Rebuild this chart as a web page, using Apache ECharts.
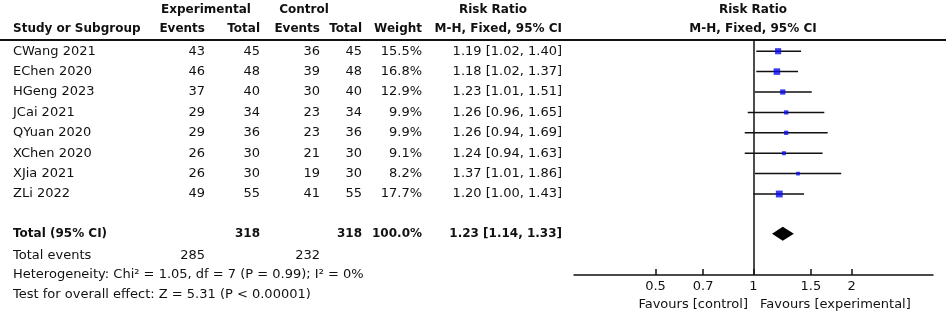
<!DOCTYPE html>
<html style="height: 100%">
<head>
    <meta charset="utf-8">
</head>
<body style="height: 100%; margin: 0; background: #fff">
<div id="container" style="width: 948px; height: 316px"></div>

<script type="text/javascript" src="https://cdn.jsdelivr.net/npm/echarts@6/dist/echarts.min.js"></script>

<script type="text/javascript">
    var studies = ['CWang 2021', 'EChen 2020', 'HGeng 2023', 'JCai 2021', 'QYuan 2020', 'XChen 2020', 'XJia 2021', 'ZLi 2022'];
    var expEvents = [43, 46, 37, 29, 29, 26, 26, 49];
    var expTotal = [45, 48, 40, 34, 36, 30, 30, 55];
    var ctrlEvents = [36, 39, 30, 23, 23, 21, 19, 41];
    var ctrlTotal = [45, 48, 40, 34, 36, 30, 30, 55];
    var weights = [15.5, 16.8, 12.9, 9.9, 9.9, 9.1, 8.2, 17.7];
    var rr = [1.19, 1.18, 1.23, 1.26, 1.26, 1.24, 1.37, 1.20];
    var ciLow = [1.02, 1.02, 1.01, 0.96, 0.94, 0.94, 1.01, 1.00];
    var ciHigh = [1.40, 1.37, 1.51, 1.65, 1.69, 1.63, 1.86, 1.43];

    var totalExp = 318, totalCtrl = 318;
    var totalExpEvents = 285, totalCtrlEvents = 232;
    var pooled = [1.23, 1.14, 1.33];   // rr, low, high

    var tickLabels = [0.5, 0.7, 1, 1.5, 2];

    var dom = document.getElementById('container');
    var myChart = echarts.init(dom);

    var FONT = 'DejaVu Sans';
    var lg = function (v) { return Math.log(v) / Math.LN10; };
    var fmt2 = function (v) { return v.toFixed(2); };

    // table columns: [x, align]
    var cols = [[13, 'left'], [205, 'right'], [260, 'right'], [320, 'right'], [362, 'right'], [422, 'right'], [562, 'right']];

    var tableRows = studies.map(function (s, i) {
        return [i + 0.55, s, expEvents[i], expTotal[i], ctrlEvents[i], ctrlTotal[i],
            weights[i].toFixed(1) + '%',
            fmt2(rr[i]) + ' [' + fmt2(ciLow[i]) + ', ' + fmt2(ciHigh[i]) + ']', 'normal'];
    });
    var wSum = weights.reduce(function (a, b) { return a + b; }, 0);
    tableRows.push([9.5, 'Total (95% CI)', '', totalExp, '', totalCtrl, wSum.toFixed(1) + '%',
        fmt2(pooled[0]) + ' [' + fmt2(pooled[1]) + ', ' + fmt2(pooled[2]) + ']', 'bold']);

    function txt(x, y, text, align, weight) {
        var bold = weight === 'bold';
        return {
            type: 'text', x: x, y: y,
            style: {
                text: String(text), align: align, verticalAlign: 'middle',
                font: (bold ? 'bold 12px' : 'normal 13px') + ' "' + FONT + '"', fill: '#111'
            }
        };
    }

    var headerTexts = [
        txt(206, 10, 'Experimental', 'center', 'bold'),
        txt(304, 10, 'Control', 'center', 'bold'),
        txt(493, 10, 'Risk Ratio', 'center', 'bold'),
        txt(753, 10, 'Risk Ratio', 'center', 'bold'),
        txt(13, 29, 'Study or Subgroup', 'left', 'bold'),
        txt(205, 29, 'Events', 'right', 'bold'),
        txt(260, 29, 'Total', 'right', 'bold'),
        txt(320, 29, 'Events', 'right', 'bold'),
        txt(362, 29, 'Total', 'right', 'bold'),
        txt(422, 29, 'Weight', 'right', 'bold'),
        txt(562, 29, 'M-H, Fixed, 95% CI', 'right', 'bold'),
        txt(753, 29, 'M-H, Fixed, 95% CI', 'center', 'bold'),
        txt(13, 256, 'Total events', 'left'),
        txt(205, 256, totalExpEvents, 'right'),
        txt(320, 256, totalCtrlEvents, 'right'),
        txt(13, 275, 'Heterogeneity: Chi\u00b2 = 1.05, df = 7 (P = 0.99); I\u00b2 = 0%', 'left'),
        txt(13, 295, 'Test for overall effect: Z = 5.31 (P < 0.00001)', 'left'),
        txt(748, 305, 'Favours [control]', 'right'),
        txt(760, 305, 'Favours [experimental]', 'left'),
        {
            type: 'line', shape: { x1: 0, y1: 40, x2: 946, y2: 40 },
            style: { stroke: '#111', lineWidth: 2 }
        }
    ];

    var option = {
        animation: false,
        backgroundColor: '#fff',
        graphic: headerTexts,
        grid: [
            { left: 0, top: 40, width: 948, height: 235 },
            { left: 574, top: 40, width: 359, height: 235 }
        ],
        xAxis: [
            { gridIndex: 0, type: 'value', min: 0, max: 948, show: false },
            {
                gridIndex: 1, type: 'value', min: -0.5513, max: 0.5513, position: 'bottom',
                splitLine: { show: false },
                axisLine: { onZero: false, lineStyle: { color: '#111', width: 1.5 } },
                axisTick: {
                    show: true, inside: true, length: 6, lineStyle: { color: '#111', width: 1.5 },
                    customValues: tickLabels.map(lg)
                },
                axisLabel: {
                    customValues: tickLabels.map(lg),
                    color: '#111', fontFamily: FONT, fontSize: 13, margin: 5,
                    formatter: function (v) { return String(Math.round(Math.pow(10, v) * 10) / 10); }
                }
            }
        ],
        yAxis: [
            { gridIndex: 0, type: 'value', min: 0, max: 11.52, inverse: true, show: false },
            { gridIndex: 1, type: 'value', min: 0, max: 11.52, inverse: true, show: false }
        ],
        series: [
            {
                type: 'custom', xAxisIndex: 0, yAxisIndex: 0, silent: true,
                data: tableRows,
                renderItem: function (params, api) {
                    var row = tableRows[params.dataIndex];
                    var y = api.coord([0, row[0]])[1];
                    var children = [];
                    for (var c = 0; c < cols.length; c++) {
                        var x = api.coord([cols[c][0], row[0]])[0];
                        children.push(txt(x, y, row[c + 1], cols[c][1], row[8]));
                    }
                    return { type: 'group', children: children };
                }
            },
            {
                // confidence interval whiskers
                type: 'custom', xAxisIndex: 1, yAxisIndex: 1, silent: true,
                data: studies.map(function (s, i) { return [lg(ciLow[i]), lg(ciHigh[i]), i + 0.55]; }),
                renderItem: function (params, api) {
                    var a = api.coord([api.value(0), api.value(2)]);
                    var b = api.coord([api.value(1), api.value(2)]);
                    return {
                        type: 'line', shape: { x1: a[0], y1: a[1], x2: b[0], y2: b[1] },
                        style: { stroke: '#111', lineWidth: 1.5 }
                    };
                },
                markLine: {
                    silent: true, symbol: 'none', label: { show: false },
                    lineStyle: { color: '#111', width: 1.5, type: 'solid' },
                    data: [{ xAxis: 0 }]
                }
            },
            {
                type: 'scatter', xAxisIndex: 1, yAxisIndex: 1, silent: true,
                symbol: 'rect',
                symbolSize: function (v, p) { return 1 + weights[p.dataIndex] * 0.33; },
                itemStyle: { color: '#0a0aef' },
                data: studies.map(function (s, i) { return [lg(rr[i]), i + 0.55]; }),
                z: 3
            },
            {
                // pooled estimate diamond
                type: 'custom', xAxisIndex: 1, yAxisIndex: 1, silent: true,
                data: [[lg(pooled[1]), lg(pooled[0]), lg(pooled[2]), 9.5]],
                renderItem: function (params, api) {
                    var l = api.coord([api.value(0), api.value(3)]);
                    var m = api.coord([api.value(1), api.value(3)]);
                    var r = api.coord([api.value(2), api.value(3)]);
                    return {
                        type: 'polygon',
                        shape: { points: [[l[0], l[1]], [m[0], m[1] - 7], [r[0], r[1]], [m[0], m[1] + 7]] },
                        style: { fill: '#000' }
                    };
                }
            }
        ]
    };

    myChart.setOption(option);
</script>
</body>
</html>
